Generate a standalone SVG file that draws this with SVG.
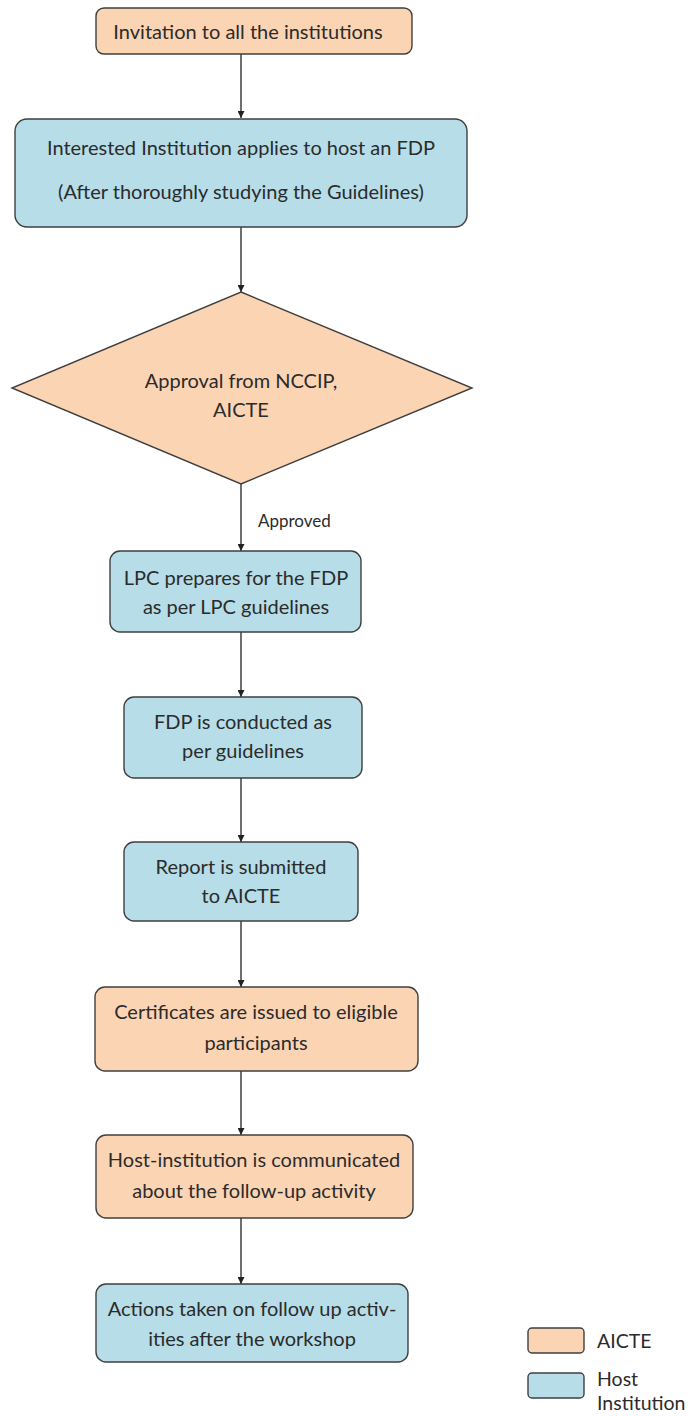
<svg xmlns="http://www.w3.org/2000/svg" width="694" height="1416" viewBox="0 0 694 1416">
<defs>
<style>
.a{fill:#FBD4B4;stroke:#3f3f3f;stroke-width:1.4}
.h{fill:#B6DDE8;stroke:#3f3f3f;stroke-width:1.4}
text{font-family:Lato,"Open Sans","Liberation Sans",sans-serif;font-size:20px;fill:#2b2b2b;text-anchor:middle}
.c line{stroke:#333;stroke-width:1.4}
</style>
<marker id="ar" viewBox="0 0 10 10" refX="10" refY="5" markerWidth="7" markerHeight="7" markerUnits="userSpaceOnUse" orient="auto">
<path d="M0,0 L10,5 L0,10 z" fill="#222"/>
</marker>
</defs>
<rect width="694" height="1416" fill="#fff"/>
<g class="c">
<line x1="241" y1="54" x2="241" y2="118" marker-end="url(#ar)"/>
<line x1="241" y1="227" x2="241" y2="292" marker-end="url(#ar)"/>
<line x1="241" y1="484" x2="241" y2="551" marker-end="url(#ar)"/>
<line x1="241" y1="632" x2="241" y2="697" marker-end="url(#ar)"/>
<line x1="241" y1="778" x2="241" y2="842" marker-end="url(#ar)"/>
<line x1="241" y1="921" x2="241" y2="987" marker-end="url(#ar)"/>
<line x1="241" y1="1071" x2="241" y2="1135" marker-end="url(#ar)"/>
<line x1="241" y1="1218" x2="241" y2="1284" marker-end="url(#ar)"/>
<text x="258" y="527" style="font-size:17px;text-anchor:start">Approved</text>
</g>
<g id="n1"><rect class="a" x="96" y="8" width="316" height="46" rx="8"/><text x="248" y="39">Invitation to all the institutions</text></g>
<g id="n2"><rect class="h" x="15" y="119" width="452" height="108" rx="12"/><text x="241" y="155">Interested Institution applies to host an FDP</text><text x="241" y="199">(After thoroughly studying the Guidelines)</text></g>
<g id="n3"><polygon class="a" points="241,292 472,388 241,484 12,388"/><text x="241" y="388">Approval from NCCIP,</text><text x="241" y="417">AICTE</text></g>
<g id="n4"><rect class="h" x="110" y="551" width="251" height="81" rx="10"/><text x="236" y="585">LPC prepares for the FDP</text><text x="236" y="614">as per LPC guidelines</text></g>
<g id="n5"><rect class="h" x="124" y="697" width="238" height="81" rx="10"/><text x="243" y="729">FDP is conducted as</text><text x="243" y="758">per guidelines</text></g>
<g id="n6"><rect class="h" x="124" y="842" width="234" height="79" rx="10"/><text x="241" y="874">Report is submitted</text><text x="241" y="903">to AICTE</text></g>
<g id="n7"><rect class="a" x="95" y="987" width="323" height="84" rx="10"/><text x="256" y="1019">Certificates are issued to eligible</text><text x="256" y="1050">participants</text></g>
<g id="n8"><rect class="a" x="96" y="1135" width="317" height="83" rx="10"/><text x="254" y="1167">Host-institution is communicated</text><text x="254" y="1198">about the follow-up activity</text></g>
<g id="n9"><rect class="h" x="96" y="1284" width="312" height="78" rx="10"/><text x="252" y="1316">Actions taken on follow up activ-</text><text x="252" y="1346">ities after the workshop</text></g>
<g id="legend">
<rect class="a" x="528" y="1328" width="56" height="25" rx="4"/><text x="597" y="1348" style="text-anchor:start;font-size:19.5px">AICTE</text>
<rect class="h" x="528" y="1373" width="56" height="25" rx="4"/><text x="597" y="1386" style="text-anchor:start;font-size:19.5px">Host</text><text x="597" y="1410" style="text-anchor:start;font-size:19.5px">Institution</text>
</g>
</svg>
